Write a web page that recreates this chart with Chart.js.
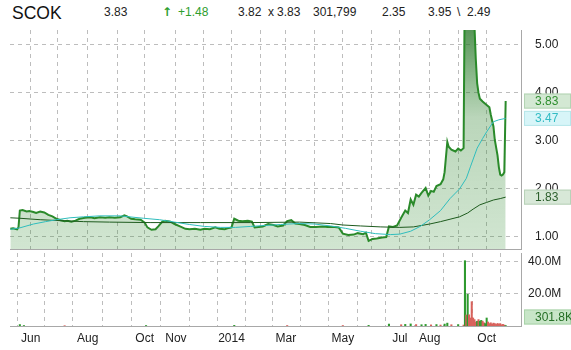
<!DOCTYPE html>
<html><head><meta charset="utf-8">
<script src="https://cdn.jsdelivr.net/npm/chart.js@4.4.1/dist/chart.umd.min.js"></script>
<style>
html,body{margin:0;padding:0;background:#fff;width:571px;height:350px;overflow:hidden;}
#wrap{position:relative;width:571px;height:350px;font-family:"Liberation Sans",Arial,sans-serif;}
.h{position:absolute;top:5px;font-size:12px;line-height:14px;color:#222;white-space:nowrap;}
canvas{position:absolute;left:0;}
</style></head>
<body><div id="wrap">
<div class="h" style="left:12px;top:3px;font-size:17.5px;line-height:20px;color:#111">SCOK</div>
<div class="h" style="left:104px">3.83</div>
<div class="h" style="left:162px;color:#2e9e2e;font-family:'DejaVu Sans';font-weight:bold;font-size:12px">&#8593;</div>
<div class="h" style="left:178px;color:#2e9e2e">+1.48</div>
<div class="h" style="left:238px">3.82</div>
<div class="h" style="left:268px">x</div>
<div class="h" style="left:277px">3.83</div>
<div class="h" style="left:313px">301,799</div>
<div class="h" style="left:382px">2.35</div>
<div class="h" style="left:428px">3.95</div>
<div class="h" style="left:457px">\</div>
<div class="h" style="left:467px">2.49</div>
<canvas id="pc" width="571" height="255" style="top:0;width:571px;height:255px"></canvas>
<canvas id="vc" width="571" height="100" style="top:250px;width:571px;height:100px"></canvas>
</div>
<script>
// ---- data (x = trading-session index, session 0 = 2013-05-10) ----
const monthIdx   = [15,35,57,79,99,122,142,163,184,203,224,245,266,287,309,330,351];
const monthLabel = ['Jun','','Aug','','Oct','Nov','','2014','','Mar','','May','','Jul','Aug','','Oct'];
const priceTicks = [1,2,3,4,5];
const volTicks = [20,40]; // millions

const priceIdx = [0,2,5,6,7,9,12,14,17,19,22,25,28,31,34,37,40,42,45,48,51,55,59,62,66,70,73,77,81,84,86,89,92,96,99,101,104,107,109,112,114,118,121,125,129,132,136,140,143,147,151,154,158,160,163,165,168,171,175,178,180,183,186,190,194,197,201,204,207,210,213,217,221,225,230,234,239,242,245,249,253,256,260,262,264,267,270,274,277,279,282,285,288,291,293,295,297,299,301,303,306,308,310,312,314,317,319,320,322,323,325,328,330,332,334,335,336,337,338,339,340,341,342,343,344,345,346,348,351,353,354,356,357,359,360,361,362,363,364,365];
const priceVal = [1.17,1.18,1.16,1.20,1.55,1.56,1.53,1.54,1.52,1.50,1.53,1.51,1.46,1.43,1.38,1.35,1.33,1.34,1.32,1.34,1.38,1.40,1.41,1.39,1.41,1.40,1.41,1.40,1.41,1.45,1.43,1.38,1.37,1.36,1.30,1.20,1.15,1.16,1.22,1.32,1.34,1.32,1.27,1.22,1.17,1.16,1.17,1.15,1.17,1.16,1.20,1.17,1.16,1.18,1.20,1.38,1.34,1.33,1.34,1.32,1.20,1.21,1.22,1.27,1.25,1.22,1.24,1.33,1.35,1.28,1.27,1.25,1.21,1.21,1.22,1.21,1.21,1.20,1.07,1.04,1.05,1.08,1.06,1.09,0.92,0.96,0.97,0.99,1.00,1.22,1.21,1.24,1.40,1.55,1.50,1.78,1.67,1.88,1.84,1.92,2.02,1.86,1.96,1.94,2.06,2.10,2.20,2.35,2.98,2.88,2.82,2.78,2.84,2.80,2.85,6.80,7.50,6.20,7.00,6.10,5.80,5.60,5.40,4.70,4.20,4.00,3.88,3.82,3.75,3.70,3.55,3.30,3.02,2.70,2.45,2.30,2.28,2.30,2.35,3.83];

const ma50Idx = [0,7,17,26,34,44,54,66,81,98,110,121,132,143,155,166,177,188,199,212,224,236,247,258,269,280,287,295,302,309,317,324,331,336,339,344,348,351,356,360,365];
const ma50Val = [1.16,1.19,1.27,1.32,1.36,1.40,1.42,1.44,1.44,1.39,1.36,1.31,1.26,1.22,1.20,1.20,1.22,1.24,1.26,1.28,1.27,1.23,1.18,1.12,1.07,1.05,1.06,1.12,1.22,1.36,1.55,1.80,2.00,2.22,2.46,2.85,3.05,3.19,3.40,3.44,3.47];

const ma200Idx = [0,7,22,37,54,73,103,140,177,213,236,245,258,273,287,297,309,317,324,331,337,341,346,351,356,361,365];
const ma200Val = [1.40,1.39,1.36,1.34,1.32,1.31,1.30,1.30,1.30,1.31,1.28,1.25,1.23,1.21,1.20,1.21,1.27,1.32,1.37,1.42,1.50,1.58,1.67,1.72,1.77,1.80,1.83];

const volIdx = [7,10,40,100,165,204,245,264,279,288,291,295,299,303,306,310,314,317,320,322,325,330,334,335,336,337,338,339,340,341,342,343,344,345,346,347,348,349,350,351,352,353,354,355,356,357,358,359,360,361,362,363,364,365];
const volVal = [0.9,0.3,0.2,0.3,0.4,0.3,0.3,0.4,1.2,0.8,1.0,1.3,0.9,0.8,1.0,0.7,0.9,0.6,1.2,1.8,0.8,0.9,0.6,40.8,6.9,19.8,7.0,5.0,15.2,5.0,4.0,2.5,3.0,4.0,3.0,3.5,3.0,2.0,1.5,5.0,2.5,1.5,2.0,1.2,1.8,1.5,1.0,1.6,1.2,1.5,0.8,1.0,0.6,0.3018];
const volUp  = [1,1,0,1,1,0,0,1,1,0,1,1,0,1,1,0,1,0,1,1,0,1,0,1,0,1,0,0,0,0,0,0,1,0,1,1,0,0,1,1,0,0,0,0,0,0,0,0,0,0,0,0,0,1];

const lastPrice = 3.83, lastMa50 = 3.47, lastMa200 = 1.83, lastVolLabel = '301.8K', lastVol = 0.3018;

// ---- chart setup ----
const FONT = '"Liberation Sans", Arial, sans-serif';
const xMin = -0.25, xMax = 376.3;
const pts = (xs, ys) => xs.map((x, i) => ({x, y: ys[i]}));

const grid = {color:'#bdbdbd', drawTicks:false, lineWidth:1};
const border = {display:true, color:'#a8a8a8', dash:[4,4]};
const noPad = s => { s.paddingTop = 0; s.paddingBottom = 0; s.paddingLeft = 0; s.paddingRight = 0; };

function box(ctx, x, yc, w, h, bg, bd, fg, text) {
  ctx.save();
  ctx.fillStyle = bg; ctx.fillRect(x, yc - h/2, w, h);
  ctx.strokeStyle = bd; ctx.lineWidth = 1;
  ctx.strokeRect(x + 0.5, yc - h/2 + 0.5, w - 1, h - 1);
  ctx.fillStyle = fg; ctx.font = '12px ' + FONT;
  ctx.textBaseline = 'middle'; ctx.textAlign = 'left';
  ctx.fillText(text, x + 11, yc + 0.5);
  ctx.restore();
}

const priceBoxes = {
  id:'priceBoxes',
  afterDraw(chart) {
    const {ctx, chartArea, scales} = chart;
    const x = chartArea.right + 3, w = 571 - x;
    box(ctx, x, scales.y.getPixelForValue(lastPrice), w, 15, '#d3e8d3', '#b3d4b3', '#2f8f2f', lastPrice.toFixed(2));
    box(ctx, x, scales.y.getPixelForValue(lastMa50), w, 15, '#d7f5f8', '#b6e6ea', '#33bcc4', lastMa50.toFixed(2));
    box(ctx, x, scales.y.getPixelForValue(lastMa200), w, 15, '#d8e8d8', '#b8d2b8', '#2c5f2c', lastMa200.toFixed(2));
  }
};

function fillGrad(c) {
  const ch = c.chart, area = ch.chartArea;
  if (!area) return 'rgba(46,139,46,0.25)';
  const g = ch.ctx.createLinearGradient(0, area.top, 0, area.bottom);
  g.addColorStop(0, 'rgba(40,120,40,0.78)');
  g.addColorStop(0.4, 'rgba(46,130,46,0.33)');
  g.addColorStop(1, 'rgba(46,139,46,0.22)');
  return g;
}

new Chart(document.getElementById('pc'), {
  type:'line',
  data:{datasets:[
    {data:pts(ma50Idx, ma50Val), borderColor:'#2fbdbd', borderWidth:1, pointRadius:0, fill:false},
    {data:pts(ma200Idx, ma200Val), borderColor:'#1d5a1d', borderWidth:1, pointRadius:0, fill:false},
    {data:pts(priceIdx, priceVal), borderColor:'#2a8a2a', borderWidth:2, pointRadius:0, fill:'start', backgroundColor:fillGrad}
  ]},
  options:{
    responsive:false, animation:false, devicePixelRatio:1,
    layout:{padding:{left:10, top:30, right:0, bottom:6}},
    plugins:{legend:{display:false}, tooltip:{enabled:false}},
    elements:{line:{tension:0}},
    scales:{
      x:{type:'linear', min:xMin, max:xMax,
         afterBuildTicks:s => { s.ticks = monthIdx.map(v => ({value:v})); },
         ticks:{display:false}, grid:grid, border:border,
         afterFit:s => { s.height = 0; noPad(s); }},
      y:{position:'right', min:0.75, max:5.31,
         afterBuildTicks:s => { s.ticks = priceTicks.map(v => ({value:v})); },
         ticks:{callback:v => Number(v).toFixed(2), padding:14, color:'#222', font:{family:FONT, size:12}},
         grid:grid, border:border,
         afterFit:s => { s.width = 50; noPad(s); }}
    }
  },
  plugins:[priceBoxes]
});

const volBox = {
  id:'volBox',
  afterDraw(chart) {
    const {ctx, chartArea, scales} = chart;
    const x = chartArea.right + 3, w = 571 - x;
    const y = Math.min(scales.y.getPixelForValue(lastVol), chartArea.bottom - 9);
    box(ctx, x, y, w, 15, '#c8e6c8', '#a9d3a9', '#256f25', lastVolLabel);
  }
};

new Chart(document.getElementById('vc'), {
  type:'bar',
  data:{datasets:[{
    data:pts(volIdx, volVal),
    backgroundColor:volUp.map(u => u ? '#2f9a2f' : '#d8625c'),
    barThickness:1.4, borderWidth:0
  }]},
  options:{
    responsive:false, animation:false, devicePixelRatio:1,
    layout:{padding:{left:10, top:3, right:0, bottom:0}},
    plugins:{legend:{display:false}, tooltip:{enabled:false}},
    scales:{
      x:{type:'linear', min:xMin, max:xMax, offset:false,
         afterBuildTicks:s => { s.ticks = monthIdx.map(v => ({value:v})); },
         ticks:{autoSkip:false, maxRotation:0, padding:5, color:'#222', font:{family:FONT, size:12},
                callback:(v) => { const i = monthIdx.indexOf(v); return i >= 0 ? monthLabel[i] : ''; }},
         grid:grid, border:border,
         afterFit:s => { s.height = 24; noPad(s); }},
      y:{position:'right', min:0, max:45.6,
         afterBuildTicks:s => { s.ticks = volTicks.map(v => ({value:v})); },
         ticks:{callback:v => Number(v).toFixed(1) + 'M', padding:7, color:'#222', font:{family:FONT, size:12}},
         grid:grid, border:border,
         afterFit:s => { s.width = 50; noPad(s); }}
    }
  },
  plugins:[volBox]
});
</script>
</body></html>
